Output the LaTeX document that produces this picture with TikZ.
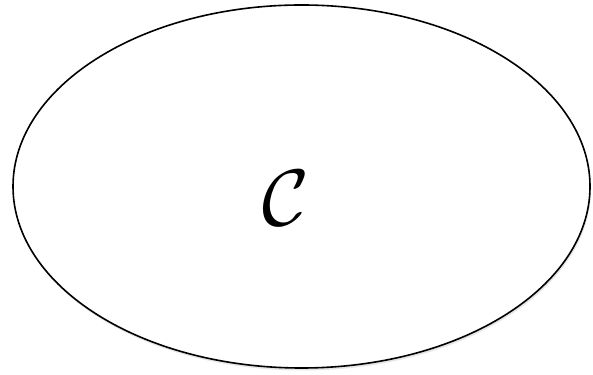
\documentclass[tikz,border=0pt]{standalone}
\usetikzlibrary{shapes.geometric, shadows}

\begin{document}
\begin{tikzpicture}[
    x=1pt, y=1pt,
    setbox/.style={ellipse, draw=black, line width=1.6pt, fill=white,
        minimum width=577pt, minimum height=363pt, inner sep=0pt,
        drop shadow={opacity=0.2, shadow xshift=1pt, shadow yshift=-2.5pt}},
    setname/.style={inner sep=0pt, scale=8},
]
\useasboundingbox (0,0) rectangle (593,374);

% ===== the set =====
\node[setbox] (set) at (301.5,187.5) {};
\node[setname] (label) at (286,176) {$\mathcal{C}$};

\end{tikzpicture}
\end{document}
